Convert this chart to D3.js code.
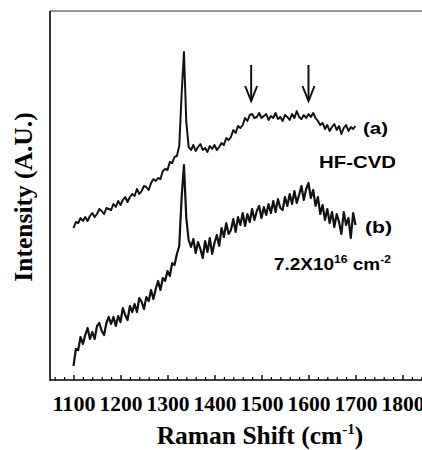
<!DOCTYPE html>
<html><head><meta charset="utf-8">
<script src="https://cdn.jsdelivr.net/npm/d3@7"></script>
<style>body{margin:0;background:#fff}svg{display:block}</style>
</head><body>
<script>
const shifts = [1100,1105,1110,1115,1120,1125,1130,1135,1140,1145,1150,1155,1160,1165,1170,1175,1180,1185,1190,1195,
1200,1205,1210,1215,1220,1225,1230,1235,1240,1245,1250,1255,1260,1265,1270,1275,1280,1285,1290,1295,
1300,1305,1310,1315,1320,1325,1330,1335,1340,1345,1350,1355,1360,1365,1370,1375,1380,1385,1390,1395,
1400,1405,1410,1415,1420,1425,1430,1435,1440,1445,1450,1455,1460,1465,1470,1475,1480,1485,1490,1495,
1500,1505,1510,1515,1520,1525,1530,1535,1540,1545,1550,1555,1560,1565,1570,1575,1580,1585,1590,1595,
1600,1605,1610,1615,1620,1625,1630,1635,1640,1645,1650,1655,1660,1665,1670,1675,1680,1685,1690,1695,1700];
const seriesA = [152,158,157,162,159,163,159,164,167,163,166,171,169,166,172,171,170,176,173,179,
175,180,183,178,183,186,184,191,186,189,194,193,190,197,201,199,202,201,209,211,
210,218,217,223,224,234,285,328,258,233,230,235,229,233,236,230,232,228,234,231,
235,230,233,237,235,242,240,243,250,247,254,252,255,262,259,265,266,262,263,267,
262,264,266,260,264,262,267,261,263,259,265,263,260,266,262,269,263,261,265,262,
266,263,267,262,259,255,257,251,255,249,253,256,250,254,246,252,255,249,253,251,254];
const seriesB = [14,31,30,43,36,45,52,41,48,41,54,57,49,45,57,63,56,63,54,64,
58,72,65,60,74,68,76,68,82,78,71,83,79,90,81,91,99,90,102,99,
109,104,117,115,126,134,182,215,162,140,133,141,127,138,131,122,139,128,142,126,
137,145,134,152,143,157,146,150,161,148,163,155,167,154,166,158,171,160,169,174,
162,173,165,176,167,179,168,181,172,170,183,174,186,176,189,177,185,194,180,191,
197,182,190,174,183,166,175,160,171,157,168,153,166,158,146,168,155,162,142,167,155];
const majorTicks = [1100,1200,1300,1400,1500,1600,1700,1800];
const minorTicks = [1060,1080,1120,1140,1160,1180,1220,1240,1260,1280,1320,1340,1360,1380,1420,1440,1460,1480,
1520,1540,1560,1580,1620,1640,1660,1680,1720,1740,1760,1780,1820,1840];
const arrowShifts = [1478, 1600];
const arrowTop = 315, arrowTip = 279;

const W = 422, H = 450;
const svg = d3.select("body").append("svg").attr("width", W).attr("height", H);
const x = d3.scaleLinear().domain([1050, 1850]).range([50, 426]);
const y = d3.scaleLinear().domain([0, 369]).range([380, 11]);

// frame
svg.append("line").attr("x1",50).attr("x2",422).attr("y1",11).attr("y2",11).attr("stroke","#333").attr("stroke-width",1);
svg.append("line").attr("x1",50).attr("x2",50).attr("y1",11).attr("y2",381).attr("stroke","#000").attr("stroke-width",1.6);

// x axis
const gx = svg.append("g").attr("transform","translate(0,380)");
gx.call(d3.axisBottom(x).tickValues(minorTicks).tickSize(-3).tickFormat(""))
  .call(g=>g.select(".domain").remove());
gx.call(g=>g.selectAll("line").attr("stroke-width",1.2));
const gx2 = svg.append("g").attr("transform","translate(0,380)");
gx2.call(d3.axisBottom(x).tickValues(majorTicks).tickSize(-5).tickPadding(17).tickFormat(d3.format("d")));
gx2.select(".domain").attr("d","M50,0H422").attr("stroke-width",1.6);
gx2.selectAll("line").attr("stroke-width",1.4);
gx2.selectAll("text").attr("font-family","'Liberation Serif', 'Times New Roman', serif")
  .attr("font-weight","bold").attr("font-size",20).attr("fill","#000").attr("dy","0.71em")
  .attr("textLength",43).attr("lengthAdjust","spacingAndGlyphs");

// curves
const line = d3.line().x((d,i)=>x(shifts[i])).y(d=>y(d)).curve(d3.curveLinear);
svg.append("path").datum(seriesA).attr("d",line).attr("fill","none").attr("stroke","#111").attr("stroke-width",2).attr("stroke-linejoin","round");
svg.append("path").datum(seriesB).attr("d",line).attr("fill","none").attr("stroke","#111").attr("stroke-width",2.2).attr("stroke-linejoin","round");

// arrows
arrowShifts.forEach(s=>{
  const ax = x(s), t = y(arrowTop), b = y(arrowTip);
  svg.append("line").attr("x1",ax).attr("x2",ax).attr("y1",t).attr("y2",b).attr("stroke","#111").attr("stroke-width",2);
  svg.append("path").attr("d",`M${ax-6},${b-15}L${ax},${b}L${ax+6},${b-15}`).attr("fill","none").attr("stroke","#111").attr("stroke-width",2);
});

// annotations
const sans = "'Liberation Sans', Arial, sans-serif";
function lab(txt, px, py, fs, len){
  svg.append("text").attr("x",px).attr("y",py).attr("font-family",sans).attr("font-weight","bold")
    .attr("font-size",fs).attr("textLength",len).attr("lengthAdjust","spacingAndGlyphs").text(txt);
}
lab("(a)", 363, 134, 16, 25);
lab("HF-CVD", 319, 168, 16.5, 77);
lab("(b)", 365, 233, 16, 27);
const t7 = svg.append("text").attr("transform","translate(274,270) scale(1.15,1)")
  .attr("font-family",sans).attr("font-weight","bold").attr("font-size",16.5);
t7.append("tspan").text("7.2X10");
t7.append("tspan").attr("font-size",10.5).attr("dy",-7).text("16");
t7.append("tspan").attr("dy",7).text(" cm");
t7.append("tspan").attr("font-size",10.5).attr("dy",-7).text("-2");

// axis titles
const serif = "'Liberation Serif', 'Times New Roman', serif";
const xt = svg.append("text").attr("x",260).attr("y",444).attr("text-anchor","middle")
  .attr("font-family",serif).attr("font-weight","bold").attr("font-size",25.5);
xt.append("tspan").text("Raman Shift (cm");
xt.append("tspan").attr("font-size",15).attr("dy",-10).text("-1");
xt.append("tspan").attr("dy",10).text(")");
svg.append("text").attr("transform","translate(32,197) rotate(-90)").attr("text-anchor","middle")
  .attr("font-family",serif).attr("font-weight","bold").attr("font-size",25.5).text("Intensity (A.U.)");
</script>
</body></html>
